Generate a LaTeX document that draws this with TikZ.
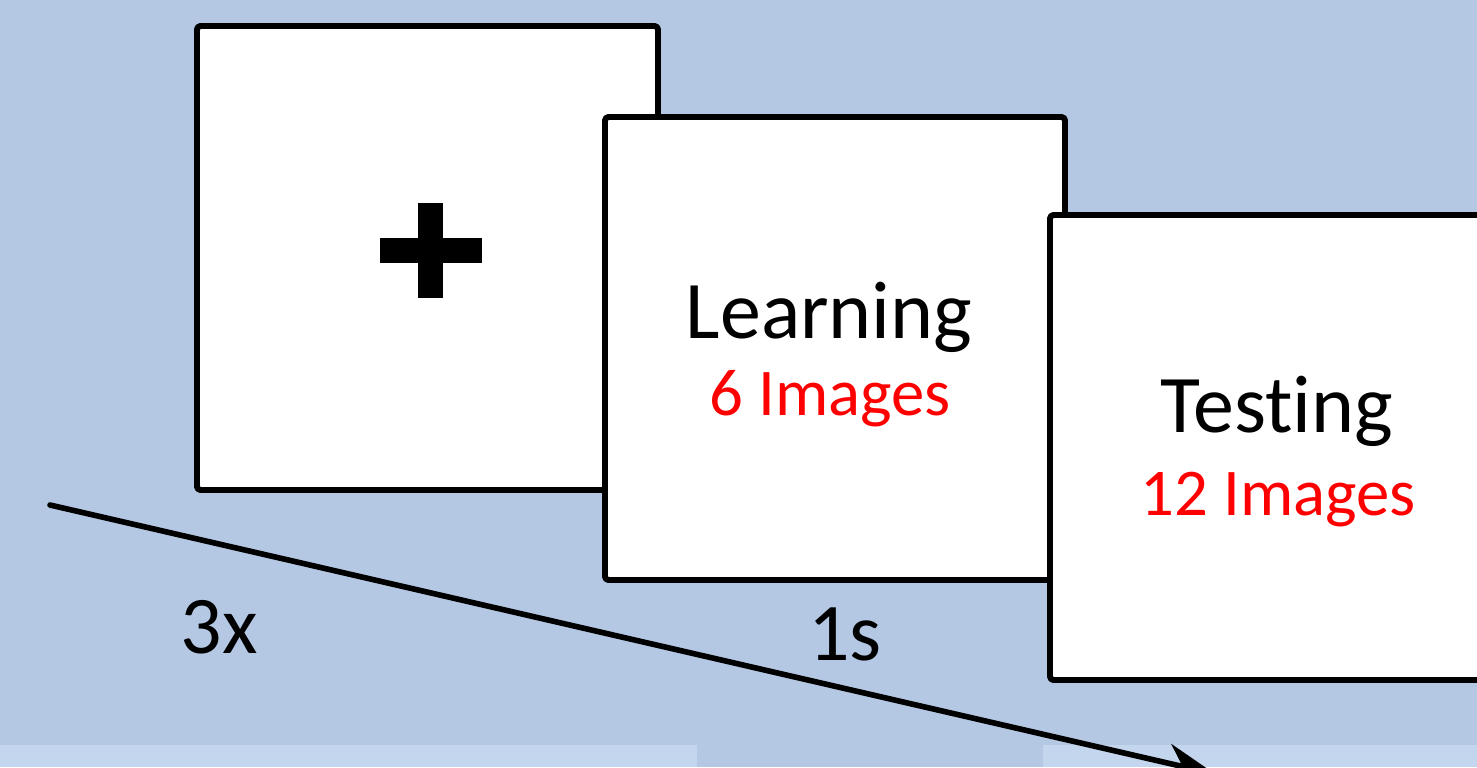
\documentclass[tikz,border=0pt]{standalone}
\usepackage{xcolor}
\usepackage{fontspec}
\usepackage{tikz}
\setmainfont{Carlito}[Ligatures=NoCommon]
\usetikzlibrary{arrows.meta}
\definecolor{bgblue}{rgb}{0.706,0.784,0.894}
\definecolor{bandblue}{rgb}{0.765,0.839,0.929}
\definecolor{ffqqqq}{rgb}{1.,0.,0.}
\tikzset{
  screen/.style={draw=black,fill=white,line width=1.7pt,rounded corners=1pt},
  bigtext/.style={anchor=base,inner sep=0pt,font=\fontsize{23.3}{28}\selectfont},
  redtext/.style={anchor=base,inner sep=0pt,text=ffqqqq,font=\fontsize{19}{23}\selectfont}
}

\begin{document}
\begin{tikzpicture}[line cap=round,line join=round,x=1.0cm,y=1.0cm]
\useasboundingbox (0,0) rectangle (14.77,7.67);
\clip (0,0) rectangle (14.77,7.67);
\fill [bgblue] (0,0) rectangle (14.77,7.67);
\fill [bandblue] (0,0) rectangle (6.97,0.22);
\fill [bandblue] (10.43,0) rectangle (14.77,0.22);
% fixation screen
\draw [screen] (1.97,2.77) rectangle (6.58,7.41);
\fill (3.80,5.045) rectangle (4.82,5.295);
\fill (4.18,4.69) rectangle (4.43,5.64);
% learning screen
\draw [screen] (6.05,1.87) rectangle (10.65,6.50);
\node [bigtext] (learn) at (8.29,4.29) {Learning};
\node [redtext] (learnimg) at (8.30,3.52) {6 Images};
% testing screen
\draw [screen] (10.50,0.87) rectangle (15.10,5.52);
\node [bigtext] (test) at (12.77,3.35) {Testing};
\node [redtext] (testimg) at (12.78,2.52) {12 Images};
% time axis
\coordinate (tstart) at (0.50,2.62);
\coordinate (tend) at (12.15,-0.07);
\draw [-{Stealth[length=14pt,width=11pt]},line width=1.6pt] (tstart) -- (tend);
\node [bigtext] (reps) at (2.19,1.14) {3x};
\node [bigtext] (dur) at (8.45,1.07) {1s};
\end{tikzpicture}
\end{document}
